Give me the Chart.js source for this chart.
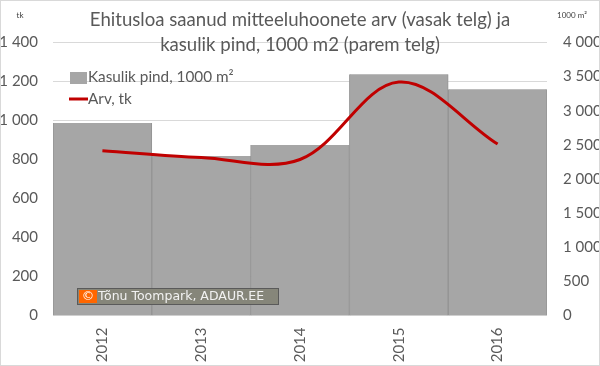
<!DOCTYPE html>
<html>
<head>
<meta charset="utf-8">
<script src="https://cdn.jsdelivr.net/npm/chart.js@4/dist/chart.umd.min.js"></script>
<style>
  html, body { margin: 0; padding: 0; background: #fff; }
  #wrap { position: relative; width: 600px; height: 366px; }
  #wrap:after { content: ''; position: absolute; left: 0; top: 0; right: 0; bottom: 0; border: 1px solid #d9d9d9; pointer-events: none; }
</style>
</head>
<body>
<div id="wrap"><canvas id="chart" width="600" height="366"></canvas></div>
<script>
// aastad ja andmed
const years = ['2012', '2013', '2014', '2015', '2016'];
const arvTk = [845, 810, 800, 1197, 879];            // vasak telg
const pind1000m2 = [2820, 2337, 2498, 3534, 3314];   // parem telg
const leftTicks = [0, 200, 400, 600, 800, 1000, 1200, 1400];
const rightTicks = [0, 500, 1000, 1500, 2000, 2500, 3000, 3500, 4000];

const titleLines = ['Ehitusloa saanud mitteeluhoonete arv (vasak telg) ja', 'kasulik pind, 1000 m2 (parem telg)'];
const legendLabels = ['Kasulik pind, 1000 m²', 'Arv, tk'];
const watermark = 'Tõnu Toompark, ADAUR.EE';

const textColor = '#595959';
const baseFont = 'Lato, "Liberation Sans", sans-serif';

function spaced(v) {
    return String(v).replace(/\B(?=(\d{3})+(?!\d))/g, ' ');
}

// pealkiri, legend, ühikud ja vesimärk
const extras = {
    id: 'extras',
    afterDraw(chart) {
        const ctx = chart.ctx;
        ctx.save();

        ctx.fillStyle = textColor;
        ctx.textAlign = 'center';
        ctx.textBaseline = 'middle';
        ctx.font = '18.6px ' + baseFont;
        ctx.fillText(titleLines[0], 300, 20);
        ctx.fillText(titleLines[1], 300, 45);

        ctx.font = '8px ' + baseFont;
        ctx.fillStyle = '#404040';
        ctx.fillText('tk', 20, 15);
        ctx.fillText('1000 m²', 572, 15);

        // legend
        ctx.textAlign = 'left';
        ctx.font = '15.3px ' + baseFont;
        ctx.fillStyle = '#a6a6a6';
        ctx.fillRect(70, 72, 17, 12);
        ctx.strokeStyle = '#c00000';
        ctx.lineWidth = 3;
        ctx.beginPath();
        ctx.moveTo(69, 99);
        ctx.lineTo(88, 99);
        ctx.stroke();
        ctx.fillStyle = textColor;
        ctx.fillText(legendLabels[0], 88, 77);
        ctx.fillText(legendLabels[1], 88, 99);

        // vesimärk
        ctx.fillStyle = '#86867a';
        ctx.fillRect(77, 288, 202, 17);
        ctx.strokeStyle = '#5a5a5a';
        ctx.lineWidth = 1;
        ctx.strokeRect(77.5, 288.5, 201, 16);
        ctx.fillStyle = '#ff6600';
        ctx.fillRect(79, 290, 18, 13);
        ctx.fillStyle = '#ffffff';
        ctx.font = '12.5px "DejaVu Sans", sans-serif';
        ctx.textAlign = 'center';
        ctx.fillText('©', 88, 297);
        ctx.fillStyle = '#f2f2f2';
        ctx.textAlign = 'left';
        ctx.fillText(watermark, 98, 297);

        ctx.restore();
    }
};

const chart = new Chart(document.getElementById('chart'), {
    type: 'bar',
    data: {
        labels: years,
        datasets: [
            {
                type: 'line',
                label: legendLabels[1],
                data: arvTk,
                yAxisID: 'y',
                borderColor: '#c00000',
                borderWidth: 3,
                pointRadius: 0,
                tension: 0.35,
                order: 0
            },
            {
                type: 'bar',
                label: legendLabels[0],
                data: pind1000m2,
                yAxisID: 'y1',
                backgroundColor: '#a6a6a6',
                borderColor: '#939393',
                borderWidth: { left: 1, right: 1, top: 0, bottom: 0 },
                borderSkipped: false,
                categoryPercentage: 1,
                barPercentage: 1,
                order: 1
            }
        ]
    },
    options: {
        responsive: false,
        animation: false,
        layout: { padding: { top: 42.5, left: 0, right: 0, bottom: 0 } },
        plugins: {
            legend: { display: false },
            title: { display: false },
            tooltip: { enabled: false }
        },
        scales: {
            x: {
                offset: true,
                grid: { display: false },
                border: { display: false },
                ticks: {
                    color: textColor,
                    font: { family: baseFont, size: 15 },
                    minRotation: 90,
                    maxRotation: 90,
                    padding: 4
                },
                afterFit(scale) { scale.height = 50.5; }
            },
            y: {
                position: 'left',
                min: 0,
                max: 1400,
                afterBuildTicks(scale) { scale.ticks = leftTicks.map(v => ({ value: v })); },
                grid: { color: '#d9d9d9', drawTicks: false },
                border: { display: false },
                ticks: {
                    color: textColor,
                    font: { family: baseFont, size: 15 },
                    padding: 15,
                    callback: v => spaced(v)
                },
                afterFit(scale) { scale.width = 53; }
            },
            y1: {
                position: 'right',
                min: 0,
                max: 4000,
                afterBuildTicks(scale) { scale.ticks = rightTicks.map(v => ({ value: v })); },
                grid: { display: false, drawTicks: false },
                border: { display: false },
                ticks: {
                    color: textColor,
                    font: { family: baseFont, size: 15 },
                    padding: 16,
                    callback: v => spaced(v)
                },
                afterFit(scale) { scale.width = 53; }
            }
        }
    },
    plugins: [extras]
});
</script>
</body>
</html>
